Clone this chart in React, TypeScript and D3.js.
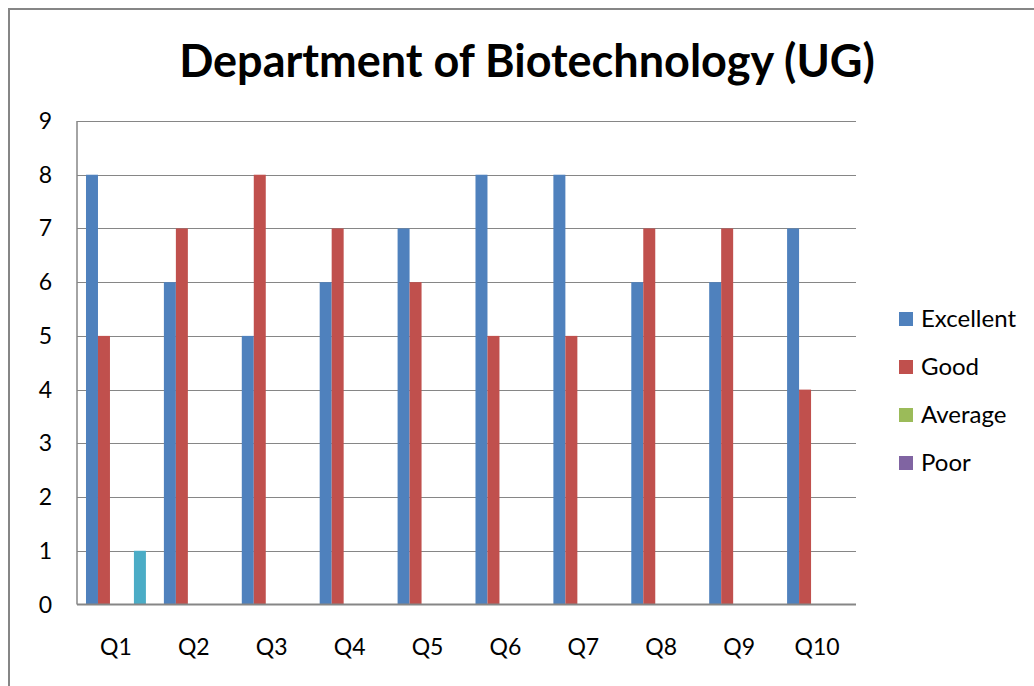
import React from "react";
import * as d3 from "d3";

const categories = ["Q1", "Q2", "Q3", "Q4", "Q5", "Q6", "Q7", "Q8", "Q9", "Q10"];
const excellent = [8, 6, 5, 6, 7, 8, 8, 6, 6, 7];
const good = [5, 7, 8, 7, 6, 5, 5, 7, 7, 4];
const average = [0, 0, 0, 0, 0, 0, 0, 0, 0, 0];
const poor = [0, 0, 0, 0, 0, 0, 0, 0, 0, 0];
const series5 = [1, 0, 0, 0, 0, 0, 0, 0, 0, 0];
const seriesNames = ["Excellent", "Good", "Average", "Poor", "Series5"];
const legendNames = ["Excellent", "Good", "Average", "Poor"];
const colors = ["#4F81BD", "#C0504D", "#9BBB59", "#8064A2", "#4BACC6"];
const yTicks = [0, 1, 2, 3, 4, 5, 6, 7, 8, 9];
const title = "Department of Biotechnology (UG)";

const W = 1034;
const H = 686;
const plot = { left: 77, right: 856, top: 121, bottom: 604.5 };
const FONT = "Lato, 'Open Sans', sans-serif";

export default function App() {
  const seriesValues = [excellent, good, average, poor, series5];
  const x0 = d3
    .scaleBand<string>()
    .domain(categories)
    .range([plot.left, plot.right])
    .paddingInner(0)
    .paddingOuter(0);
  const bw = x0.bandwidth();
  const barW = bw / (seriesNames.length + 1.5);
  const x1 = d3
    .scaleBand<string>()
    .domain(seriesNames)
    .range([0.75 * barW, bw - 0.75 * barW])
    .padding(0);
  const y = d3.scaleLinear().domain([0, 9]).range([plot.bottom, plot.top]);

  return (
    <svg
      width={W}
      height={H}
      style={{ position: "absolute", left: 0, top: 0, background: "#fff" }}
    >
      <rect x={0} y={0} width={W} height={H} fill="#fff" />
      <path d={`M9,${H} V9 H${W}`} fill="none" stroke="#868686" strokeWidth={2} />
      <text
        x={527}
        y={77}
        textAnchor="middle"
        fontFamily={FONT}
        fontWeight="bold"
        fontSize={45}
        fill="#000"
      >
        {title}
      </text>
      {yTicks.map((t) => (
        <g key={t}>
          {t > 0 && (
            <line
              x1={plot.left}
              x2={plot.right}
              y1={Math.round(y(t)) + 0.5}
              y2={Math.round(y(t)) + 0.5}
              stroke="#868686"
              strokeWidth={1}
            />
          )}
          <text
            x={52}
            y={y(t)}
            dy="0.35em"
            textAnchor="end"
            fontFamily={FONT}
            fontSize={23}
            fill="#000"
          >
            {t}
          </text>
        </g>
      ))}
      {seriesNames.map((s, si) =>
        categories.map((c, ci) => {
          const v = seriesValues[si][ci];
          if (!v) return null;
          return (
            <rect
              key={s + c}
              x={(x0(c) as number) + (x1(s) as number)}
              y={y(v)}
              width={x1.bandwidth()}
              height={y(0) - y(v)}
              fill={colors[si]}
            />
          );
        })
      )}
      <line x1={plot.left} x2={plot.left} y1={plot.top} y2={plot.bottom} stroke="#868686" strokeWidth={1.5} />
      <line x1={plot.left} x2={plot.right} y1={plot.bottom} y2={plot.bottom} stroke="#868686" strokeWidth={1.8} />
      {categories.map((c) => (
        <text
          key={c}
          x={(x0(c) as number) + bw / 2}
          y={655}
          textAnchor="middle"
          fontFamily={FONT}
          fontSize={23}
          fill="#000"
        >
          {c}
        </text>
      ))}
      {legendNames.map((n, i) => (
        <g key={n} transform={`translate(899,${319 + i * 48})`}>
          <rect x={0} y={-7} width={14} height={14} fill={colors[i]} />
          <text x={22} y={0} dy="0.35em" fontFamily={FONT} fontSize={24} fill="#000">
            {n}
          </text>
        </g>
      ))}
    </svg>
  );
}
